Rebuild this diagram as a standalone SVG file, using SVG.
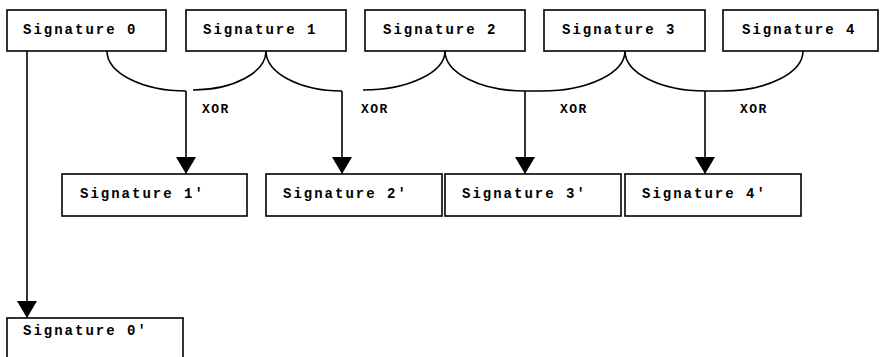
<svg xmlns="http://www.w3.org/2000/svg" width="882" height="357" viewBox="0 0 882 357">
<style>
.box{fill:#fff;stroke:#000;stroke-width:1.6}
.lbl{font-family:"Liberation Mono","Courier New",monospace;font-size:14px;font-weight:bold;letter-spacing:2px;fill:#000}
.xor{font-family:"Liberation Mono","Courier New",monospace;font-size:13px;font-weight:bold;letter-spacing:1.5px;fill:#000}
.wire{fill:none;stroke:#000;stroke-width:1.6}
.arrow{fill:none;stroke:#000;stroke-width:1.6;marker-end:url(#arr)}
</style>
<defs>
<marker id="arr" markerUnits="userSpaceOnUse" markerWidth="17" markerHeight="20" viewBox="0 0 17 20" refX="17" refY="10" orient="auto">
<path d="M0,0 L17,10 L0,20 Z" fill="#000"/>
</marker>
</defs>
<rect width="882" height="357" fill="#fff"/>
<g id="connectors">
<path class="arrow" d="M27,51 V318"/>
<path class="wire" d="M107,51 A79,40 0 0 0 186,91"/>
<path class="wire" d="M266,51 A73,39 0 0 1 193,90"/>
<path class="wire" d="M266,51 A76,40 0 0 0 342,91"/>
<path class="wire" d="M445,51 A82,39 0 0 1 363,90"/>
<path class="wire" d="M445,51 A80,40 0 0 0 525,91 H542"/>
<path class="wire" d="M625,51 A83,40 0 0 1 542,91"/>
<path class="wire" d="M625,51 A80,40 0 0 0 705,91 H722"/>
<path class="wire" d="M803,51 A81,40 0 0 1 722,91"/>
<path class="arrow" d="M186,91 V174"/>
<path class="arrow" d="M342,91 V174"/>
<path class="arrow" d="M525,91 V174"/>
<path class="arrow" d="M705,91 V174"/>
<text class="xor" x="202" y="113">XOR</text>
<text class="xor" x="361" y="113">XOR</text>
<text class="xor" x="560" y="113">XOR</text>
<text class="xor" x="740" y="113">XOR</text>
</g>
<g id="sig0"><rect class="box" x="7" y="10" width="159" height="41"/><text class="lbl" x="23" y="34">Signature 0</text></g>
<g id="sig1"><rect class="box" x="186" y="10" width="160" height="41"/><text class="lbl" x="203" y="34">Signature 1</text></g>
<g id="sig2"><rect class="box" x="365" y="10" width="160" height="41"/><text class="lbl" x="383" y="34">Signature 2</text></g>
<g id="sig3"><rect class="box" x="544" y="10" width="161" height="41"/><text class="lbl" x="562" y="34">Signature 3</text></g>
<g id="sig4"><rect class="box" x="723" y="10" width="155" height="41"/><text class="lbl" x="742" y="34">Signature 4</text></g>
<g id="sig1p"><rect class="box" x="62" y="174" width="185" height="42"/><text class="lbl" x="80" y="198">Signature 1'</text></g>
<g id="sig2p"><rect class="box" x="266" y="174" width="176" height="42"/><text class="lbl" x="283" y="198">Signature 2'</text></g>
<g id="sig3p"><rect class="box" x="445" y="174" width="176" height="42"/><text class="lbl" x="462" y="198">Signature 3'</text></g>
<g id="sig4p"><rect class="box" x="625" y="174" width="176" height="42"/><text class="lbl" x="642" y="198">Signature 4'</text></g>
<g id="sig0p"><rect class="box" x="7" y="318" width="176" height="42"/><text class="lbl" x="23" y="335">Signature 0'</text></g>
</svg>
